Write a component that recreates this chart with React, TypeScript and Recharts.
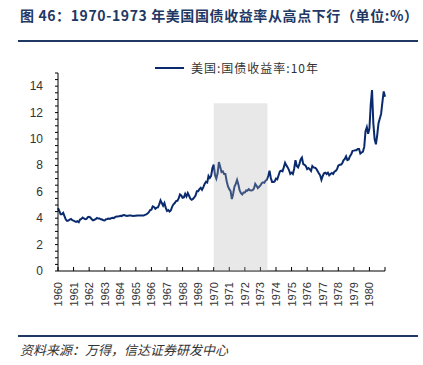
import React from "react";
import {
  Legend,
  Line,
  LineChart,
  ReferenceArea,
  XAxis,
  YAxis,
} from "recharts";

// 美国10年期国债收益率, 月度
const START_YEAR = 1960;

const yields1960s = [
  // 1960
  4.75, 4.55, 4.3, 4.3, 4.4, 4.15, 3.9, 3.8, 3.82, 3.9, 3.95, 3.85,
  // 1961
  3.82, 3.76, 3.72, 3.78, 3.7, 3.9, 3.95, 4.05, 3.98, 3.92, 3.95, 4.08,
  // 1962
  4.1, 4.05, 3.92, 3.84, 3.88, 3.92, 4.02, 3.97, 3.98, 3.92, 3.9, 3.85,
  // 1963
  3.83, 3.92, 3.94, 3.98, 3.95, 4.0, 4.03, 4.01, 4.08, 4.12, 4.12, 4.14,
  // 1964
  4.18, 4.16, 4.23, 4.24, 4.2, 4.17, 4.19, 4.2, 4.2, 4.19, 4.16, 4.18,
  // 1965
  4.19, 4.21, 4.21, 4.2, 4.21, 4.21, 4.2, 4.25, 4.29, 4.35, 4.45, 4.62,
  // 1966
  4.65, 4.9, 4.85, 4.72, 4.8, 4.82, 5.05, 5.35, 5.15, 4.95, 5.15, 4.8,
  // 1967
  4.55, 4.62, 4.5, 4.6, 4.88, 5.05, 5.15, 5.3, 5.32, 5.5, 5.8, 5.72,
  // 1968
  5.55, 5.58, 5.85, 5.64, 5.9, 5.7, 5.48, 5.4, 5.46, 5.58, 5.72, 6.05,
  // 1969
  6.05, 6.2, 6.3, 6.15, 6.35, 6.6, 6.75, 6.7, 7.2, 7.05, 7.2, 7.8,
];

const yields1970s = [
  // 1970
  8.05, 7.25, 7.0, 7.4, 8.25, 7.9, 7.5, 7.55, 7.35, 7.35, 6.8, 6.4,
  // 1971
  6.2, 6.05, 5.45, 5.85, 6.4, 6.6, 6.9, 6.55, 6.1, 5.9, 5.8, 5.95,
  // 1972
  5.95, 6.1, 6.08, 6.2, 6.12, 6.1, 6.12, 6.25, 6.6, 6.45, 6.28, 6.38,
  // 1973
  6.48, 6.65, 6.72, 6.68, 6.85, 6.92, 7.2, 7.6, 7.05, 6.75, 6.75, 6.78,
  // 1974
  7.0, 6.95, 7.25, 7.55, 7.6, 7.55, 7.85, 8.2, 8.0, 7.85, 7.65, 7.35,
  // 1975
  7.45, 7.35, 7.75, 8.4, 7.95, 7.85, 8.1, 8.45, 8.6, 8.1, 8.05, 7.95,
  // 1976
  7.72, 7.8, 7.72, 7.58, 7.95, 7.85, 7.82, 7.75, 7.58, 7.4, 7.25, 6.9,
  // 1977
  7.2, 7.4, 7.45, 7.35, 7.45, 7.25, 7.35, 7.42, 7.35, 7.52, 7.58, 7.7,
  // 1978
  7.98, 8.05, 8.05, 8.15, 8.38, 8.48, 8.68, 8.4, 8.45, 8.7, 8.85, 9.1,
  // 1979
  9.12, 9.15, 9.15, 9.25, 9.25, 8.9, 8.98, 9.05, 9.4, 10.6, 10.9, 10.4,
];

const yields1980 = [
  10.8, 12.6, 13.7, 11.2, 10.0, 9.6, 10.3, 11.2, 11.55, 11.9, 12.8, 13.6,
  // 1981-01
  13.2,
];

const yearTicks = [
  1960, 1961, 1962, 1963, 1964, 1965, 1966, 1967, 1968, 1969, 1970, 1971,
  1972, 1973, 1974, 1975, 1976, 1977, 1978, 1979, 1980, 1981,
];
const yTicks = [
  0, 0.5, 1, 1.5, 2, 2.5, 3, 3.5, 4, 4.5, 5, 5.5, 6, 6.5, 7, 7.5, 8, 8.5, 9,
  9.5, 10, 10.5, 11, 11.5, 12, 12.5, 13, 13.5, 14, 14.5, 15,
];

const shadeFrom = 1970;
const shadeTo = 1973.45;
const shadeTop = 12.7;

const allYields = [...yields1960s, ...yields1970s, ...yields1980];
const data = allYields.map((v, i) => ({ t: START_YEAR + i / 12, v }));

const NAVY = "#0a2a6e";
const TITLE = "#1f3864";

const YTick = (props: any) => {
  const { x, y, payload } = props;
  if (payload.value % 2 !== 0) return <g />;
  return (
    <text x={x} y={y} dy={4} textAnchor="end" fontSize={12} fill="#333" fontFamily="Liberation Sans, Arial">
      {payload.value}
    </text>
  );
};

const XTick = (props: any) => {
  const { x, y, payload } = props;
  if (payload.value > 1980) return <g />;
  return (
    <text
      x={x}
      y={y}
      transform={`rotate(-90 ${x} ${y})`}
      dy={4}
      textAnchor="end"
      fontSize={11}
      fill="#333"
      fontFamily="Liberation Sans, Arial"
    >
      {payload.value}
    </text>
  );
};

const LegendBox = () => (
  <div style={{ display: "flex", alignItems: "center", fontFamily: "Noto Sans CJK SC", fontSize: 12, color: "#333" }}>
    <span style={{ display: "inline-block", width: 29, height: 2, background: NAVY, marginRight: 7 }} />
    <span style={{ letterSpacing: 1 }}>美国:国债收益率:10年</span>
  </div>
);

export default function App() {
  return (
    <div style={{ position: "absolute", left: 0, top: 0, width: 423, height: 365, background: "#fff" }}>
      <div
        style={{
          position: "absolute",
          left: 20,
          top: 5,
          fontFamily: "Noto Sans CJK SC",
          fontWeight: 700,
          fontSize: 14,
          letterSpacing: 0.6,
          color: TITLE,
          whiteSpace: "nowrap",
        }}
      >
        图 46：1970-1973 年美国国债收益率从高点下行（单位:%）
      </div>
      <div style={{ position: "absolute", left: 18, top: 40, width: 400, height: 2, background: TITLE }} />

      <div style={{ position: "absolute", left: 0, top: 0 }}>
        <LineChart width={423} height={365} data={data} margin={{ top: 56, right: 38, bottom: 54, left: 0 }}>
          <XAxis
            dataKey="t"
            type="number"
            domain={[1960, 1981]}
            ticks={yearTicks}
            interval={0}
            tick={<XTick />}
            tickSize={-4}
            tickMargin={15}
            height={40}
            stroke="#000"
            axisLine={{ stroke: "#000" }}
            tickLine={{ stroke: "#000" }}
          />
          <YAxis
            type="number"
            domain={[0, 15]}
            ticks={yTicks}
            interval={0}
            tick={<YTick />}
            tickSize={3}
            tickMargin={12}
            width={58}
            axisLine={{ stroke: "#000" }}
            tickLine={{ stroke: "#000" }}
          />
          <Legend
            verticalAlign="top"
            content={<LegendBox />}
            wrapperStyle={{ position: "absolute", left: 155, top: 59, width: 240 }}
          />
          <Line
            type="linear"
            dataKey="v"
            stroke={NAVY}
            strokeWidth={2}
            dot={false}
            isAnimationActive={false}
          />
          <ReferenceArea
            x1={shadeFrom}
            x2={shadeTo}
            y1={0}
            y2={shadeTop}
            fill="#b4b4b4"
            fillOpacity={0.3}
            stroke="none"
            zIndex={600}
          />
        </LineChart>
      </div>

      <div style={{ position: "absolute", left: 18, top: 335, width: 400, height: 2, background: TITLE }} />
      <div
        style={{
          position: "absolute",
          left: 20,
          top: 340,
          fontFamily: "Noto Sans CJK SC",
          fontStyle: "italic",
          fontSize: 13,
          color: "#333",
          whiteSpace: "nowrap",
        }}
      >
        资料来源：万得，信达证券研发中心
      </div>
    </div>
  );
}
